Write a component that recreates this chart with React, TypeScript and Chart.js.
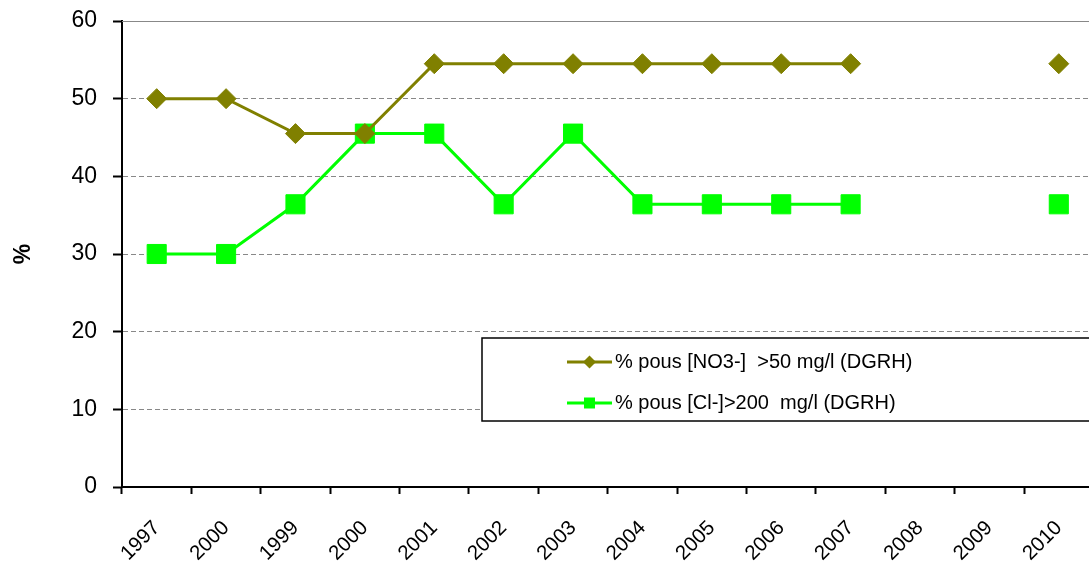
import React, { useEffect, useRef } from "react";
import { Chart, registerables } from "chart.js";

Chart.register(...registerables);

const categories = ["1997", "2000", "1999", "2000", "2001", "2002", "2003", "2004", "2005", "2006", "2007", "2008", "2009", "2010"];
const no3Values = [50, 50, 45.5, 45.5, 54.5, 54.5, 54.5, 54.5, 54.5, 54.5, 54.5, null, null, 54.5];
const clValues = [30, 30, 36.4, 45.5, 45.5, 36.4, 45.5, 36.4, 36.4, 36.4, 36.4, null, null, 36.4];
const seriesLabels = ["% pous [NO3-]  >50 mg/l (DGRH)", "% pous [Cl-]>200  mg/l (DGRH)"];
const yTicks = [0, 10, 20, 30, 40, 50, 60];

const OLIVE = "#808000";
const GREEN = "#00FF00";
const FONT = "'Liberation Sans', Arial, sans-serif";

const extrasPlugin = {
  id: "extras",
  afterDraw(chart: any) {
    const { ctx, chartArea } = chart;
    ctx.save();
    ctx.strokeStyle = "#888888";
    ctx.lineWidth = 1;
    ctx.beginPath();
    ctx.moveTo(chartArea.left, chartArea.top + 0.5);
    ctx.lineTo(chartArea.right, chartArea.top + 0.5);
    ctx.stroke();

    const bx = chartArea.left + 360;
    const by = 338;
    const bw = 700;
    const bh = 83;
    ctx.fillStyle = "#ffffff";
    ctx.fillRect(bx, by, bw, bh);
    ctx.strokeStyle = "#000000";
    ctx.lineWidth = 1.5;
    ctx.strokeRect(bx, by, bw, bh);

    const rows = [362, 403];
    chart.data.datasets.forEach((ds: any, i: number) => {
      const y = rows[i];
      const x1 = bx + 85;
      const x2 = bx + 130;
      const cx = (x1 + x2) / 2;
      ctx.strokeStyle = ds.borderColor;
      ctx.lineWidth = 3;
      ctx.beginPath();
      ctx.moveTo(x1, y);
      ctx.lineTo(x2, y);
      ctx.stroke();
      ctx.fillStyle = ds.pointBackgroundColor;
      ctx.beginPath();
      if (ds.pointStyle === "rectRot") {
        const r = 6.5;
        ctx.moveTo(cx, y - r);
        ctx.lineTo(cx + r, y);
        ctx.lineTo(cx, y + r);
        ctx.lineTo(cx - r, y);
        ctx.closePath();
      } else {
        const s = 11;
        ctx.rect(cx - s / 2, y - s / 2, s, s);
      }
      ctx.fill();
      ctx.fillStyle = "#000000";
      ctx.font = `20px ${FONT}`;
      ctx.textBaseline = "middle";
      ctx.textAlign = "left";
      ctx.fillText(ds.label, x2 + 3, y);
    });
    ctx.restore();
  },
};

export default function App() {
  const canvasRef = useRef<HTMLCanvasElement | null>(null);

  useEffect(() => {
    if (!canvasRef.current) return;
    const chart = new Chart(canvasRef.current, {
      type: "line",
      data: {
        labels: categories,
        datasets: [
          {
            label: seriesLabels[0],
            data: no3Values,
            borderColor: OLIVE,
            backgroundColor: OLIVE,
            pointBackgroundColor: OLIVE,
            pointBorderColor: OLIVE,
            pointStyle: "rectRot",
            pointRadius: 10,
            pointBorderWidth: 1,
            borderWidth: 3,
            spanGaps: false,
            tension: 0,
          },
          {
            label: seriesLabels[1],
            data: clValues,
            borderColor: GREEN,
            backgroundColor: GREEN,
            pointBackgroundColor: GREEN,
            pointBorderColor: GREEN,
            pointStyle: "rect",
            pointRadius: 13.5,
            pointBorderWidth: 1,
            borderWidth: 3,
            spanGaps: false,
            tension: 0,
          },
        ] as any,
      },
      options: {
        animation: false,
        responsive: true,
        maintainAspectRatio: false,
        layout: { padding: { top: 21, right: 0, bottom: 0, left: 0 } },
        plugins: {
          legend: { display: false },
          tooltip: { enabled: false },
        },
        scales: {
          x: {
            type: "category",
            offset: true,
            grid: {
              offset: true,
              drawOnChartArea: false,
              drawTicks: true,
              tickLength: 7,
              tickWidth: 2,
              tickColor: "#000000",
            },
            border: { display: true, color: "#000000", width: 2 },
            ticks: {
              color: "#000000",
              font: { family: FONT, size: 20.5 },
              minRotation: 45,
              maxRotation: 45,
              autoSkip: false,
              padding: 22,
            },
            afterFit: (s: any) => {
              s.height = 82;
              s.paddingLeft = 0;
              s.paddingRight = 0;
              s.paddingTop = 0;
              s.paddingBottom = 0;
            },
          },
          y: {
            min: 0,
            max: 60,
            afterBuildTicks: (s: any) => {
              s.ticks = yTicks.map((v) => ({ value: v }));
            },
            grid: {
              color: "#888888",
              lineWidth: 1,
              tickColor: "#000000",
              tickLength: 9,
              tickWidth: 2,
            },
            border: { display: true, color: "#000000", width: 2, dash: [5, 3] },
            ticks: {
              color: "#000000",
              font: { family: FONT, size: 23 },
              padding: 16,
            },
            title: {
              display: true,
              text: "%",
              color: "#000000",
              font: { family: FONT, size: 23, weight: "bold" },
              padding: { top: 10, bottom: 0 },
            },
            afterFit: (s: any) => {
              s.width = 122;
              s.paddingTop = 0;
              s.paddingBottom = 0;
              s.paddingLeft = 0;
              s.paddingRight = 0;
            },
          },
        },
      },
      plugins: [extrasPlugin],
    });
    return () => chart.destroy();
  }, []);

  return (
    <div style={{ position: "fixed", left: 0, top: 0, width: 1089, height: 569, overflow: "hidden", background: "#fff" }}>
      <div style={{ position: "relative", width: 1108, height: 569 }}>
        <canvas ref={canvasRef} />
      </div>
    </div>
  );
}
